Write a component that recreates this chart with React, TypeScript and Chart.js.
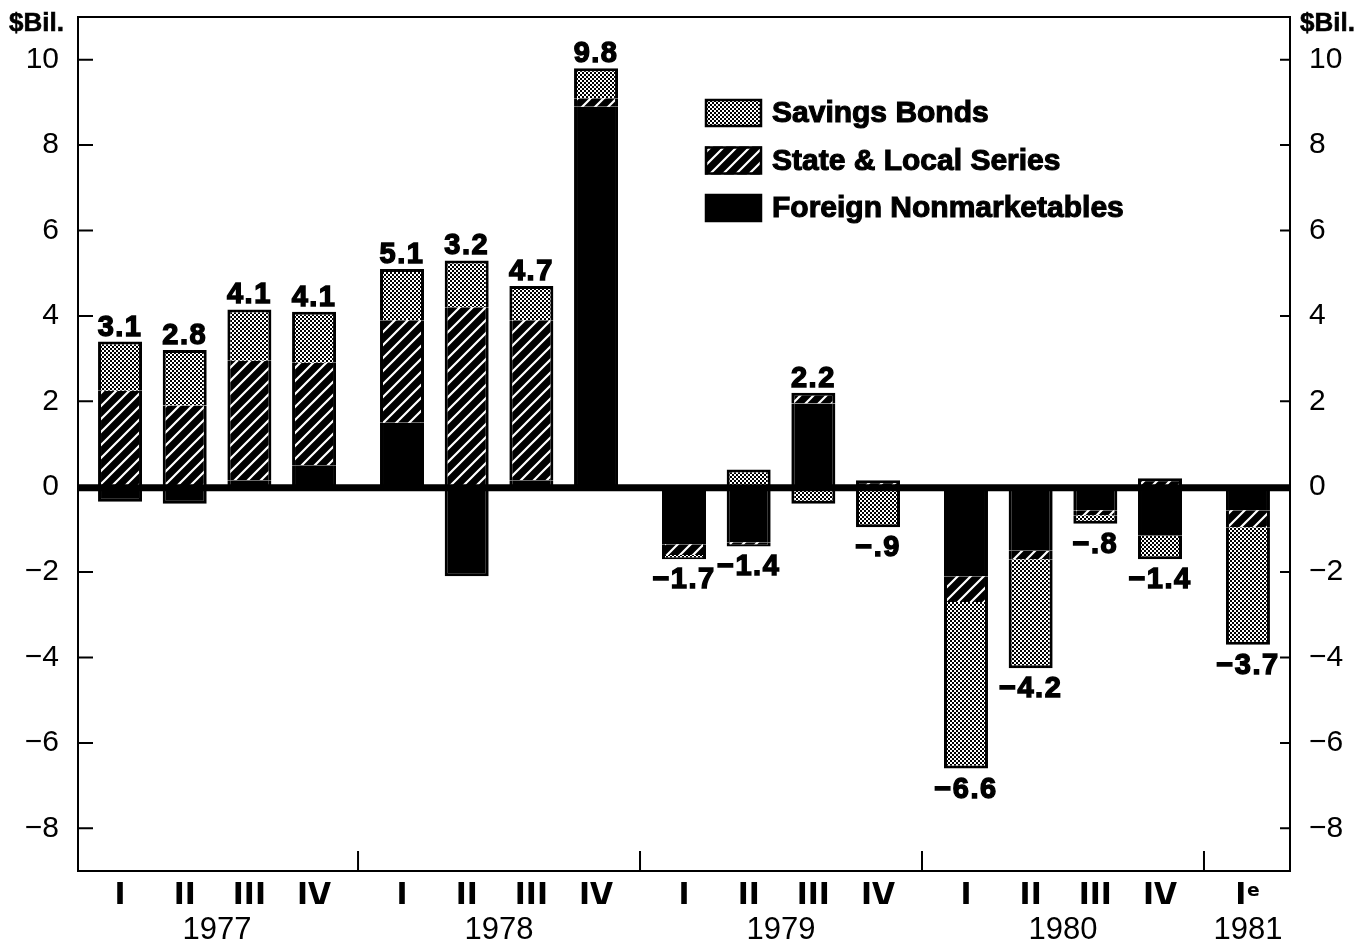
import React, { useEffect, useRef } from "react";
import { Chart, registerables } from "chart.js";

Chart.register(...registerables);

// ---------- data ----------
const quarterLabels = ["I", "II", "III", "IV", "I", "II", "III", "IV", "I", "II", "III", "IV", "I", "II", "III", "IV", "I\u1D49"];
const yearLabels = ["1977", "1978", "1979", "1980", "1981"];
const quartersPerYear = [4, 4, 4, 4, 1];

const savingsBonds = [1.15, 1.3, 1.2, 1.2, 1.2, 1.1, 0.8, 0.7, -0.1, 0.4, -0.4, -0.85, -3.9, -2.55, -0.2, -0.55, -2.75];
const stateLocalSeries = [2.25, 1.9, 2.8, 2.4, 2.4, 4.2, 3.75, 0.2, -0.25, -0.1, 0.25, 0.15, -0.6, -0.2, -0.12, 0.2, -0.4];
const foreignNonmarketables = [-0.35, -0.4, 0.15, 0.5, 1.5, -2.1, 0.15, 8.9, -1.35, -1.3, 1.95, -0.1, -2.1, -1.5, -0.55, -1.15, -0.55];

const totalLabels = ["3.1", "2.8", "4.1", "4.1", "5.1", "3.2", "4.7", "9.8", "\u22121.7", "\u22121.4", "2.2", "\u2212.9", "\u22126.6", "\u22124.2", "\u2212.8", "\u22121.4", "\u22123.7"];

const yTicks = [-8, -6, -4, -2, 0, 2, 4, 6, 8, 10];
const yMin = -9;
const yMax = 11;
const unitLabel = "$Bil.";

// ---------- layout helpers ----------
const FONT = "'Liberation Sans', Arial, Helvetica, sans-serif";
const NARROW = "'Liberation Sans Narrow', 'DejaVu Sans Condensed', 'Liberation Sans', Arial, sans-serif";
const YEAR_GAP = 0.36;
const EDGE = 0.65;

function quarterYearIndex(): number[] {
  const out: number[] = [];
  quartersPerYear.forEach((n, y) => {
    for (let k = 0; k < n; k++) out.push(y);
  });
  return out;
}
const qYear = quarterYearIndex();
const xPos = quarterLabels.map((_, i) => i + YEAR_GAP * qYear[i]);
const xMin = xPos[0] - EDGE;
const xMax = xPos[xPos.length - 1] + EDGE;

function yearCenters(): number[] {
  return yearLabels.map((_, y) => {
    const ps = xPos.filter((_, i) => qYear[i] === y);
    return (ps[0] + ps[ps.length - 1]) / 2;
  });
}
function yearSeparators(): number[] {
  const out: number[] = [];
  for (let y = 0; y < yearLabels.length - 1; y++) {
    const a = xPos.filter((_, i) => qYear[i] === y);
    const b = xPos.filter((_, i) => qYear[i] === y + 1);
    out.push((a[a.length - 1] + b[0]) / 2);
  }
  return out;
}

function makeDotPattern(): CanvasPattern {
  const c = document.createElement("canvas");
  c.width = 4;
  c.height = 4;
  const g = c.getContext("2d")!;
  g.fillStyle = "#000";
  g.fillRect(0, 0, 4, 4);
  g.fillStyle = "#fff";
  g.fillRect(0, 0, 2, 2);
  g.fillRect(2, 2, 2, 2);
  return g.createPattern(c, "repeat")!;
}

function makeHatchPattern(): CanvasPattern {
  const s = 13;
  const c = document.createElement("canvas");
  c.width = s;
  c.height = s;
  const g = c.getContext("2d")!;
  g.fillStyle = "#000";
  g.fillRect(0, 0, s, s);
  g.strokeStyle = "#fff";
  g.lineWidth = 2.2;
  g.beginPath();
  g.moveTo(-2, s + 2);
  g.lineTo(s + 2, -2);
  g.moveTo(-2, 2);
  g.lineTo(2, -2);
  g.moveTo(s - 2, s + 2);
  g.lineTo(s + 2, s - 2);
  g.stroke();
  return g.createPattern(c, "repeat")!;
}

const stackSeries = [foreignNonmarketables, stateLocalSeries, savingsBonds];
const BW = 3;
function borderFor(ctx: any) {
  const d = ctx.datasetIndex;
  const i = ctx.dataIndex;
  const v = stackSeries[d][i];
  const outer = !stackSeries.slice(d + 1).some((s) => s[i] !== 0 && Math.sign(s[i]) === Math.sign(v));
  return v >= 0
    ? { top: outer ? BW : 0, bottom: 0, left: BW, right: BW }
    : { top: 0, bottom: outer ? BW : 0, left: BW, right: BW };
}

const decorPlugin = {
  id: "decor",
  afterDatasetsDraw(chart: any) {
    const { ctx, chartArea: a, scales } = chart;
    const y = scales.y;
    const x = scales.x;
    ctx.save();
    ctx.strokeStyle = "#000";
    // zero line
    const y0 = y.getPixelForValue(0);
    ctx.lineWidth = 7;
    ctx.beginPath();
    ctx.moveTo(a.left, y0 + 1);
    ctx.lineTo(a.right, y0 + 1);
    ctx.stroke();
    // frame
    ctx.lineWidth = 2;
    ctx.strokeRect(a.left, a.top, a.right - a.left, a.bottom - a.top);
    // inward y ticks
    ctx.beginPath();
    yTicks.forEach((v) => {
      const py = y.getPixelForValue(v);
      ctx.moveTo(a.left, py);
      ctx.lineTo(a.left + 15, py);
      ctx.moveTo(a.right - 10, py);
      ctx.lineTo(a.right, py);
    });
    ctx.stroke();
    // year separators
    ctx.beginPath();
    yearSeparators().forEach((v) => {
      const px = x.getPixelForValue(v);
      ctx.moveTo(px, a.bottom);
      ctx.lineTo(px, a.bottom - 20);
    });
    ctx.stroke();
    ctx.restore();
  },
  afterDraw(chart: any) {
    const { ctx, chartArea: a, scales } = chart;
    const y = scales.y;
    const x = scales.x;
    ctx.save();
    ctx.fillStyle = "#000";
    ctx.strokeStyle = "#000";
    // value labels
    ctx.font = `bold 29px ${FONT}`;
    (ctx as any).letterSpacing = "1.5px";
    ctx.textAlign = "center";
    ctx.textBaseline = "alphabetic";
    ctx.lineWidth = 1.4;
    totalLabels.forEach((lab, i) => {
      let pos = 0;
      let neg = 0;
      stackSeries.forEach((s) => {
        if (s[i] > 0) pos += s[i];
        else neg += s[i];
      });
      const val = parseFloat(lab.replace("\u2212", "-"));
      const px = x.getPixelForValue(xPos[i]);
      let py: number;
      if (val >= 0) py = y.getPixelForValue(pos) - 6;
      else py = y.getPixelForValue(neg) + 29;
      ctx.fillText(lab, px, py);
      ctx.strokeText(lab, px, py);
    });
    (ctx as any).letterSpacing = "0px";
    // unit labels
    ctx.font = `bold 26px ${FONT}`;
    ctx.textBaseline = "middle";
    ctx.lineWidth = 0.6;
    ctx.textAlign = "right";
    ctx.fillText(unitLabel, a.left - 14, 24);
    ctx.strokeText(unitLabel, a.left - 14, 24);
    ctx.textAlign = "left";
    ctx.fillText(unitLabel, a.right + 10, 24);
    ctx.strokeText(unitLabel, a.right + 10, 24);
    // legend
    const order = [2, 1, 0];
    const lx = a.left + 627;
    const rows = [a.top + 96, a.top + 143.5, a.top + 191];
    ctx.font = `bold 30px ${FONT}`;
    ctx.textAlign = "left";
    ctx.textBaseline = "middle";
    order.forEach((di, r) => {
      const ds = chart.data.datasets[di];
      const cy = rows[r];
      ctx.fillStyle = ds.backgroundColor;
      ctx.fillRect(lx, cy - 14, 57, 28);
      ctx.lineWidth = 2.5;
      ctx.strokeRect(lx + 1, cy - 13, 55, 26);
      ctx.fillStyle = "#000";
      ctx.lineWidth = 1.1;
      ctx.fillText(ds.label, lx + 67, cy + 1);
      ctx.strokeText(ds.label, lx + 67, cy + 1);
    });
    ctx.restore();
  },
};

export default function App() {
  const ref = useRef<HTMLCanvasElement>(null);
  useEffect(() => {
    if (!ref.current) return;
    const dots = makeDotPattern();
    const hatch = makeHatchPattern();
    const mk = (arr: number[]) => arr.map((v, i) => ({ x: xPos[i], y: v }));
    const yTickCfg = {
      color: "#000",
      font: { family: FONT, size: 30 },
      padding: 11,
      callback: (v: number) => (v < 0 ? "\u2212" + Math.abs(v) : String(v)),
    };
    const noPad = (s: any, w: number) => {
      s.width = w;
      s.paddingTop = 0;
      s.paddingBottom = 0;
    };
    const chart = new Chart(ref.current, {
      type: "bar",
      data: {
        datasets: [
          { label: "Foreign Nonmarketables", data: mk(foreignNonmarketables), backgroundColor: "#000" },
          { label: "State & Local Series", data: mk(stateLocalSeries), backgroundColor: hatch as any },
          { label: "Savings Bonds", data: mk(savingsBonds), backgroundColor: dots as any },
        ],
      },
      options: {
        animation: false,
        responsive: true,
        maintainAspectRatio: false,
        events: [],
        layout: { padding: { top: 17, left: 0, right: 0, bottom: 0 } },
        datasets: {
          bar: {
            barThickness: 44,
            borderColor: "#000",
            borderWidth: borderFor as any,
            borderSkipped: false,
            inflateAmount: 0,
          },
        },
        plugins: { legend: { display: false }, tooltip: { enabled: false } },
        scales: {
          x: {
            type: "linear",
            position: "bottom",
            stacked: true,
            offset: false,
            min: xMin,
            max: xMax,
            grid: { display: false, offset: false },
            border: { display: false },
            afterBuildTicks: (s: any) => {
              s.ticks = xPos.map((v) => ({ value: v }));
            },
            afterFit: (s: any) => {
              s.height = 33;
              s.paddingLeft = 0;
              s.paddingRight = 0;
            },
            ticks: {
              autoSkip: false,
              maxRotation: 0,
              color: "#000",
              padding: 0,
              font: { family: NARROW, size: 33, weight: "bold" },
              callback: (_v: any, i: number) => quarterLabels[i],
            },
          },
          x2: {
            type: "linear",
            position: "bottom",
            offset: false,
            min: xMin,
            max: xMax,
            grid: { display: false, offset: false },
            border: { display: false },
            afterBuildTicks: (s: any) => {
              s.ticks = yearCenters().map((v) => ({ value: v }));
            },
            afterFit: (s: any) => {
              s.height = 40;
              s.paddingLeft = 0;
              s.paddingRight = 0;
            },
            ticks: {
              autoSkip: false,
              maxRotation: 0,
              color: "#000",
              padding: 0,
              font: { family: FONT, size: 31 },
              callback: (_v: any, i: number) => yearLabels[i],
            },
          },
          y: {
            type: "linear",
            position: "left",
            stacked: true,
            min: yMin,
            max: yMax,
            grid: { display: false },
            border: { display: false },
            afterBuildTicks: (s: any) => {
              s.ticks = yTicks.map((v) => ({ value: v }));
            },
            afterFit: (s: any) => noPad(s, 78),
            ticks: yTickCfg as any,
          },
          y2: {
            type: "linear",
            position: "right",
            display: true,
            min: yMin,
            max: yMax,
            grid: { display: false },
            border: { display: false },
            afterBuildTicks: (s: any) => {
              s.ticks = yTicks.map((v) => ({ value: v }));
            },
            afterFit: (s: any) => noPad(s, 77),
            ticks: yTickCfg as any,
          },
        },
      } as any,
      plugins: [decorPlugin],
    });
    return () => chart.destroy();
  }, []);
  return (
    <div style={{ position: "fixed", left: 0, top: 0, width: 1367, height: 944, background: "#fff" }}>
      <canvas ref={ref} />
    </div>
  );
}
